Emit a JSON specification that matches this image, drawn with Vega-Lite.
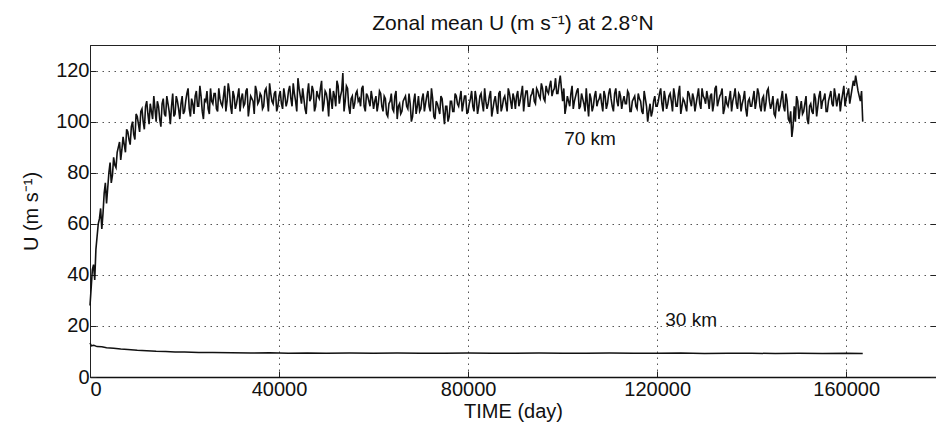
{
  "$schema": "https://vega.github.io/schema/vega-lite/v6.json",
  "autosize": {"type": "none"},
  "padding": {"left": 90, "top": 45, "right": 0, "bottom": 53},
  "width": 846,
  "height": 332,
  "background": "white",
  "title": {"text": "Zonal mean U (m s⁻¹) at 2.8°N", "anchor": "middle", "font": "Liberation Sans", "fontSize": 21, "fontWeight": "normal", "color": "#111", "offset": 11},
  "config": {
    "view": {"stroke": "#222", "strokeWidth": 1},
    "axis": {"labelFont": "Liberation Sans", "titleFont": "Liberation Sans", "labelFontSize": 20, "titleFontSize": 20, "titleFontWeight": "normal", "labelColor": "#111", "titleColor": "#111", "domainColor": "#222", "tickColor": "#222", "gridColor": "#555", "gridDash": [1.5, 4.5], "gridOpacity": 1, "gridWidth": 1}
  },
  "datasets": {
    "u70": [
      {"t":0,"u":28},{"t":500,"u":42},{"t":1000,"u":38},{"t":1500,"u":55},{"t":2000,"u":62},{"t":2500,"u":58},{"t":3000,"u":72},{"t":3500,"u":68},{"t":4000,"u":80},{"t":4500,"u":76},
      {"t":5000,"u":86},{"t":5500,"u":82},{"t":6000,"u":90},{"t":6500,"u":85},{"t":7000,"u":94},{"t":7500,"u":88},{"t":8000,"u":96},{"t":8500,"u":91},{"t":9000,"u":100},{"t":9500,"u":93},
      {"t":10000,"u":102},{"t":10500,"u":96},{"t":11000,"u":105},{"t":11500,"u":97},{"t":12000,"u":108},{"t":12500,"u":99},{"t":13000,"u":104},{"t":13500,"u":110},{"t":14000,"u":100},{"t":14500,"u":106},
      {"t":15000,"u":98},{"t":15500,"u":109},{"t":16000,"u":102},{"t":16500,"u":107},{"t":17000,"u":99},{"t":17500,"u":111},{"t":18000,"u":103},{"t":18500,"u":108},{"t":19000,"u":101},{"t":19500,"u":110},
      {"t":20000,"u":104},{"t":20500,"u":111},{"t":21000,"u":105},{"t":21500,"u":109},{"t":22000,"u":103},{"t":22500,"u":112},{"t":23000,"u":106},{"t":23500,"u":110},{"t":24000,"u":101},{"t":24500,"u":108},
      {"t":25000,"u":105},{"t":25500,"u":113},{"t":26000,"u":107},{"t":26500,"u":111},{"t":27000,"u":104},{"t":27500,"u":109},{"t":28000,"u":106},{"t":28500,"u":114},{"t":29000,"u":108},{"t":29500,"u":112},
      {"t":30000,"u":103},{"t":30500,"u":110},{"t":31000,"u":107},{"t":31500,"u":113},{"t":32000,"u":109},{"t":32500,"u":106},{"t":33000,"u":112},{"t":33500,"u":102},{"t":34000,"u":110},{"t":34500,"u":108},
      {"t":35000,"u":114},{"t":35500,"u":107},{"t":36000,"u":111},{"t":36500,"u":105},{"t":37000,"u":112},{"t":37500,"u":109},{"t":38000,"u":115},{"t":38500,"u":108},{"t":39000,"u":111},{"t":39500,"u":104},
      {"t":40000,"u":110},{"t":40500,"u":107},{"t":41000,"u":113},{"t":41500,"u":106},{"t":42000,"u":112},{"t":42500,"u":109},{"t":43000,"u":115},{"t":43500,"u":108},{"t":44000,"u":117},{"t":44500,"u":110},
      {"t":45000,"u":113},{"t":45500,"u":105},{"t":46000,"u":111},{"t":46500,"u":108},{"t":47000,"u":114},{"t":47500,"u":104},{"t":48000,"u":112},{"t":48500,"u":109},{"t":49000,"u":116},{"t":49500,"u":107},
      {"t":50000,"u":111},{"t":50500,"u":102},{"t":51000,"u":109},{"t":51500,"u":112},{"t":52000,"u":106},{"t":52500,"u":114},{"t":53000,"u":110},{"t":53500,"u":119},{"t":54000,"u":108},{"t":54500,"u":113},
      {"t":55000,"u":103},{"t":55500,"u":110},{"t":56000,"u":107},{"t":56500,"u":112},{"t":57000,"u":109},{"t":57500,"u":113},{"t":58000,"u":106},{"t":58500,"u":111},{"t":59000,"u":108},{"t":59500,"u":112},
      {"t":60000,"u":105},{"t":60500,"u":110},{"t":61000,"u":107},{"t":61500,"u":111},{"t":62000,"u":104},{"t":62500,"u":109},{"t":63000,"u":102},{"t":63500,"u":108},{"t":64000,"u":105},{"t":64500,"u":110},
      {"t":65000,"u":101},{"t":65500,"u":107},{"t":66000,"u":104},{"t":66500,"u":109},{"t":67000,"u":106},{"t":67500,"u":111},{"t":68000,"u":100},{"t":68500,"u":108},{"t":69000,"u":103},{"t":69500,"u":110},
      {"t":70000,"u":105},{"t":70500,"u":111},{"t":71000,"u":107},{"t":71500,"u":112},{"t":72000,"u":104},{"t":72500,"u":109},{"t":73000,"u":101},{"t":73500,"u":107},{"t":74000,"u":103},{"t":74500,"u":109},
      {"t":75000,"u":99},{"t":75500,"u":106},{"t":76000,"u":102},{"t":76500,"u":108},{"t":77000,"u":104},{"t":77500,"u":110},{"t":78000,"u":106},{"t":78500,"u":112},{"t":79000,"u":107},{"t":79500,"u":110},
      {"t":80000,"u":104},{"t":80500,"u":109},{"t":81000,"u":106},{"t":81500,"u":112},{"t":82000,"u":103},{"t":82500,"u":110},{"t":83000,"u":107},{"t":83500,"u":113},{"t":84000,"u":105},{"t":84500,"u":110},
      {"t":85000,"u":102},{"t":85500,"u":108},{"t":86000,"u":106},{"t":86500,"u":111},{"t":87000,"u":104},{"t":87500,"u":109},{"t":88000,"u":107},{"t":88500,"u":113},{"t":89000,"u":108},{"t":89500,"u":111},
      {"t":90000,"u":105},{"t":90500,"u":112},{"t":91000,"u":108},{"t":91500,"u":114},{"t":92000,"u":109},{"t":92500,"u":112},{"t":93000,"u":106},{"t":93500,"u":111},{"t":94000,"u":108},{"t":94500,"u":113},
      {"t":95000,"u":110},{"t":95500,"u":115},{"t":96000,"u":109},{"t":96500,"u":114},{"t":97000,"u":111},{"t":97500,"u":116},{"t":98000,"u":112},{"t":98500,"u":117},{"t":99000,"u":111},{"t":99500,"u":118},
      {"t":100000,"u":108},{"t":100500,"u":103},{"t":101000,"u":110},{"t":101500,"u":106},{"t":102000,"u":114},{"t":102500,"u":108},{"t":103000,"u":112},{"t":103500,"u":105},{"t":104000,"u":111},{"t":104500,"u":107},
      {"t":105000,"u":113},{"t":105500,"u":102},{"t":106000,"u":109},{"t":106500,"u":106},{"t":107000,"u":112},{"t":107500,"u":108},{"t":108000,"u":111},{"t":108500,"u":104},{"t":109000,"u":110},{"t":109500,"u":107},
      {"t":110000,"u":113},{"t":110500,"u":106},{"t":111000,"u":111},{"t":111500,"u":108},{"t":112000,"u":112},{"t":112500,"u":105},{"t":113000,"u":110},{"t":113500,"u":107},{"t":114000,"u":111},{"t":114500,"u":104},
      {"t":115000,"u":109},{"t":115500,"u":106},{"t":116000,"u":111},{"t":116500,"u":108},{"t":117000,"u":103},{"t":117500,"u":109},{"t":118000,"u":100},{"t":118500,"u":107},{"t":119000,"u":104},{"t":119500,"u":110},
      {"t":120000,"u":106},{"t":120500,"u":111},{"t":121000,"u":107},{"t":121500,"u":112},{"t":122000,"u":105},{"t":122500,"u":110},{"t":123000,"u":108},{"t":123500,"u":113},{"t":124000,"u":106},{"t":124500,"u":111},
      {"t":125000,"u":103},{"t":125500,"u":109},{"t":126000,"u":106},{"t":126500,"u":112},{"t":127000,"u":108},{"t":127500,"u":111},{"t":128000,"u":104},{"t":128500,"u":110},{"t":129000,"u":107},{"t":129500,"u":113},
      {"t":130000,"u":109},{"t":130500,"u":112},{"t":131000,"u":105},{"t":131500,"u":111},{"t":132000,"u":107},{"t":132500,"u":114},{"t":133000,"u":108},{"t":133500,"u":111},{"t":134000,"u":103},{"t":134500,"u":110},
      {"t":135000,"u":106},{"t":135500,"u":112},{"t":136000,"u":108},{"t":136500,"u":113},{"t":137000,"u":105},{"t":137500,"u":110},{"t":138000,"u":107},{"t":138500,"u":112},{"t":139000,"u":102},{"t":139500,"u":109},
      {"t":140000,"u":106},{"t":140500,"u":112},{"t":141000,"u":108},{"t":141500,"u":111},{"t":142000,"u":104},{"t":142500,"u":110},{"t":143000,"u":107},{"t":143500,"u":113},{"t":144000,"u":105},{"t":144500,"u":110},
      {"t":145000,"u":102},{"t":145500,"u":109},{"t":146000,"u":106},{"t":146500,"u":112},{"t":147000,"u":104},{"t":147500,"u":108},{"t":148000,"u":100},{"t":148500,"u":94},{"t":149000,"u":106},{"t":149500,"u":110},
      {"t":150000,"u":101},{"t":150500,"u":108},{"t":151000,"u":104},{"t":151500,"u":110},{"t":152000,"u":99},{"t":152500,"u":107},{"t":153000,"u":103},{"t":153500,"u":109},{"t":154000,"u":106},{"t":154500,"u":112},
      {"t":155000,"u":108},{"t":155500,"u":111},{"t":156000,"u":104},{"t":156500,"u":110},{"t":157000,"u":107},{"t":157500,"u":113},{"t":158000,"u":106},{"t":158500,"u":111},{"t":159000,"u":108},{"t":159500,"u":114},
      {"t":160000,"u":109},{"t":160500,"u":113},{"t":161000,"u":110},{"t":161500,"u":116},{"t":162000,"u":118},{"t":162500,"u":112},{"t":163000,"u":108},{"t":163500,"u":100},
      {"t":250,"u":35},{"t":750,"u":44},{"t":1250,"u":50},{"t":1750,"u":60},{"t":2250,"u":66},{"t":2750,"u":64},{"t":3250,"u":76},{"t":3750,"u":74},{"t":4250,"u":84},{"t":4750,"u":79},
      {"t":5250,"u":83},{"t":5750,"u":88},{"t":6250,"u":92},{"t":6750,"u":89},{"t":7250,"u":91},{"t":7750,"u":97},{"t":8250,"u":93},{"t":8750,"u":98},{"t":9250,"u":95},{"t":9750,"u":103},
      {"t":10250,"u":99},{"t":10750,"u":104},{"t":11250,"u":100},{"t":11750,"u":106},{"t":12250,"u":103},{"t":12750,"u":107},{"t":13250,"u":101},{"t":13750,"u":105},{"t":14250,"u":108},{"t":14750,"u":101},
      {"t":15250,"u":107},{"t":15750,"u":103},{"t":16250,"u":110},{"t":16750,"u":104},{"t":17250,"u":106},{"t":17750,"u":102},{"t":18250,"u":110},{"t":18750,"u":105},{"t":19250,"u":107},{"t":19750,"u":103},
      {"t":20250,"u":108},{"t":20750,"u":113},{"t":21250,"u":102},{"t":21750,"u":107},{"t":22250,"u":110},{"t":22750,"u":106},{"t":23250,"u":114},{"t":23750,"u":104},{"t":24250,"u":109},{"t":24750,"u":112},
      {"t":25250,"u":103},{"t":25750,"u":108},{"t":26250,"u":111},{"t":26750,"u":105},{"t":27250,"u":113},{"t":27750,"u":107},{"t":28250,"u":110},{"t":28750,"u":104},{"t":29250,"u":115},{"t":29750,"u":106},
      {"t":30250,"u":112},{"t":30750,"u":105},{"t":31250,"u":110},{"t":31750,"u":104},{"t":32250,"u":111},{"t":32750,"u":107},{"t":33250,"u":113},{"t":33750,"u":106},{"t":34250,"u":109},{"t":34750,"u":103},
      {"t":35250,"u":112},{"t":35750,"u":108},{"t":36250,"u":110},{"t":36750,"u":106},{"t":37250,"u":113},{"t":37750,"u":104},{"t":38250,"u":111},{"t":38750,"u":107},{"t":39250,"u":112},{"t":39750,"u":106},
      {"t":40250,"u":112},{"t":40750,"u":105},{"t":41250,"u":110},{"t":41750,"u":108},{"t":42250,"u":114},{"t":42750,"u":106},{"t":43250,"u":111},{"t":43750,"u":104},{"t":44250,"u":113},{"t":44750,"u":107},
      {"t":45250,"u":109},{"t":45750,"u":103},{"t":46250,"u":115},{"t":46750,"u":109},{"t":47250,"u":112},{"t":47750,"u":106},{"t":48250,"u":110},{"t":48750,"u":113},{"t":49250,"u":104},{"t":49750,"u":112},
      {"t":50250,"u":108},{"t":50750,"u":113},{"t":51250,"u":105},{"t":51750,"u":110},{"t":52250,"u":116},{"t":52750,"u":107},{"t":53250,"u":112},{"t":53750,"u":104},{"t":54250,"u":114},{"t":54750,"u":106},
      {"t":55250,"u":109},{"t":55750,"u":105},{"t":56250,"u":111},{"t":56750,"u":108},{"t":57250,"u":106},{"t":57750,"u":114},{"t":58250,"u":104},{"t":58750,"u":110},{"t":59250,"u":106},{"t":59750,"u":109},
      {"t":60250,"u":108},{"t":60750,"u":104},{"t":61250,"u":112},{"t":61750,"u":106},{"t":62250,"u":110},{"t":62750,"u":103},{"t":63250,"u":107},{"t":63750,"u":111},{"t":64250,"u":104},{"t":64750,"u":112},
      {"t":65250,"u":106},{"t":65750,"u":103},{"t":66250,"u":108},{"t":66750,"u":110},{"t":67250,"u":105},{"t":67750,"u":107},{"t":68250,"u":102},{"t":68750,"u":111},{"t":69250,"u":106},{"t":69750,"u":104},
      {"t":70250,"u":109},{"t":70750,"u":104},{"t":71250,"u":110},{"t":71750,"u":106},{"t":72250,"u":113},{"t":72750,"u":102},{"t":73250,"u":108},{"t":73750,"u":105},{"t":74250,"u":110},{"t":74750,"u":104},
      {"t":75250,"u":106},{"t":75750,"u":100},{"t":76250,"u":108},{"t":76750,"u":104},{"t":77250,"u":111},{"t":77750,"u":107},{"t":78250,"u":109},{"t":78750,"u":104},{"t":79250,"u":110},{"t":79750,"u":103},
      {"t":80250,"u":107},{"t":80750,"u":112},{"t":81250,"u":104},{"t":81750,"u":109},{"t":82250,"u":106},{"t":82750,"u":111},{"t":83250,"u":104},{"t":83750,"u":108},{"t":84250,"u":107},{"t":84750,"u":112},
      {"t":85250,"u":105},{"t":85750,"u":110},{"t":86250,"u":103},{"t":86750,"u":112},{"t":87250,"u":106},{"t":87750,"u":110},{"t":88250,"u":104},{"t":88750,"u":111},{"t":89250,"u":105},{"t":89750,"u":109},
      {"t":90250,"u":110},{"t":90750,"u":106},{"t":91250,"u":111},{"t":91750,"u":104},{"t":92250,"u":112},{"t":92750,"u":106},{"t":93250,"u":110},{"t":93750,"u":113},{"t":94250,"u":107},{"t":94750,"u":112},
      {"t":95250,"u":109},{"t":95750,"u":113},{"t":96250,"u":108},{"t":96750,"u":112},{"t":97250,"u":114},{"t":97750,"u":110},{"t":98250,"u":113},{"t":98750,"u":111},{"t":99250,"u":115},{"t":99750,"u":113},
      {"t":100250,"u":113},{"t":100750,"u":106},{"t":101250,"u":108},{"t":101750,"u":111},{"t":102250,"u":105},{"t":102750,"u":110},{"t":103250,"u":113},{"t":103750,"u":106},{"t":104250,"u":109},{"t":104750,"u":104},
      {"t":105250,"u":107},{"t":105750,"u":111},{"t":106250,"u":104},{"t":106750,"u":110},{"t":107250,"u":106},{"t":107750,"u":109},{"t":108250,"u":107},{"t":108750,"u":112},{"t":109250,"u":105},{"t":109750,"u":111},
      {"t":110250,"u":109},{"t":110750,"u":104},{"t":111250,"u":113},{"t":111750,"u":106},{"t":112250,"u":110},{"t":112750,"u":108},{"t":113250,"u":107},{"t":113750,"u":112},{"t":114250,"u":104},{"t":114750,"u":108},
      {"t":115250,"u":110},{"t":115750,"u":105},{"t":116250,"u":109},{"t":116750,"u":104},{"t":117250,"u":112},{"t":117750,"u":106},{"t":118250,"u":104},{"t":118750,"u":102},{"t":119250,"u":108},{"t":119750,"u":106},
      {"t":120250,"u":108},{"t":120750,"u":113},{"t":121250,"u":104},{"t":121750,"u":109},{"t":122250,"u":107},{"t":122750,"u":111},{"t":123250,"u":104},{"t":123750,"u":110},{"t":124250,"u":106},{"t":124750,"u":114},
      {"t":125250,"u":106},{"t":125750,"u":108},{"t":126250,"u":104},{"t":126750,"u":111},{"t":127250,"u":106},{"t":127750,"u":109},{"t":128250,"u":107},{"t":128750,"u":113},{"t":129250,"u":105},{"t":129750,"u":110},
      {"t":130250,"u":107},{"t":130750,"u":109},{"t":131250,"u":110},{"t":131750,"u":104},{"t":132250,"u":113},{"t":132750,"u":106},{"t":133250,"u":110},{"t":133750,"u":113},{"t":134250,"u":105},{"t":134750,"u":107},
      {"t":135250,"u":109},{"t":135750,"u":104},{"t":136250,"u":110},{"t":136750,"u":107},{"t":137250,"u":111},{"t":137750,"u":104},{"t":138250,"u":109},{"t":138750,"u":105},{"t":139250,"u":108},{"t":139750,"u":106},
      {"t":140250,"u":109},{"t":140750,"u":105},{"t":141250,"u":113},{"t":141750,"u":106},{"t":142250,"u":109},{"t":142750,"u":104},{"t":143250,"u":112},{"t":143750,"u":108},{"t":144250,"u":107},{"t":144750,"u":103},
      {"t":145250,"u":107},{"t":145750,"u":104},{"t":146250,"u":109},{"t":146750,"u":106},{"t":147250,"u":111},{"t":147750,"u":101},{"t":148250,"u":104},{"t":148750,"u":98},{"t":149250,"u":100},{"t":149750,"u":108},
      {"t":150250,"u":105},{"t":150750,"u":103},{"t":151250,"u":107},{"t":151750,"u":101},{"t":152250,"u":106},{"t":152750,"u":104},{"t":153250,"u":111},{"t":153750,"u":102},{"t":154250,"u":110},{"t":154750,"u":105},
      {"t":155250,"u":109},{"t":155750,"u":104},{"t":156250,"u":108},{"t":156750,"u":112},{"t":157250,"u":106},{"t":157750,"u":110},{"t":158250,"u":109},{"t":158750,"u":104},{"t":159250,"u":111},{"t":159750,"u":106},
      {"t":160250,"u":111},{"t":160750,"u":107},{"t":161250,"u":113},{"t":161750,"u":114},{"t":162250,"u":115},{"t":162750,"u":110},{"t":163250,"u":112}
    ],
    "u30": [
      {"t":0,"u":13.3},{"t":300,"u":12.2},{"t":800,"u":12.4},{"t":1500,"u":11.9},{"t":2500,"u":11.8},{"t":3500,"u":11.5},{"t":5000,"u":11.3},{"t":6500,"u":11.0},{"t":8000,"u":10.8},{"t":10000,"u":10.5},
      {"t":12000,"u":10.3},{"t":14000,"u":10.1},{"t":16000,"u":10.0},{"t":18000,"u":9.8},{"t":20000,"u":9.8},{"t":23000,"u":9.6},{"t":26000,"u":9.6},{"t":30000,"u":9.5},{"t":34000,"u":9.4},{"t":38000,"u":9.5},
      {"t":42000,"u":9.3},{"t":46000,"u":9.4},{"t":50000,"u":9.3},{"t":55000,"u":9.4},{"t":60000,"u":9.3},{"t":65000,"u":9.4},{"t":70000,"u":9.3},{"t":75000,"u":9.3},{"t":80000,"u":9.4},{"t":85000,"u":9.3},
      {"t":90000,"u":9.3},{"t":95000,"u":9.4},{"t":100000,"u":9.3},{"t":105000,"u":9.3},{"t":110000,"u":9.4},{"t":115000,"u":9.3},{"t":120000,"u":9.3},{"t":125000,"u":9.4},{"t":130000,"u":9.2},{"t":135000,"u":9.3},
      {"t":140000,"u":9.3},{"t":145000,"u":9.2},{"t":150000,"u":9.3},{"t":155000,"u":9.2},{"t":160000,"u":9.3},{"t":163500,"u":9.2}
    ],
    "labels": [
      {"t":105800,"u":93,"text":"70 km"},
      {"t":127200,"u":22.4,"text":"30 km"}
    ]
  },
  "layer": [
    {
      "data": {"name": "u70"},
      "mark": {"type": "line", "color": "#111", "strokeWidth": 1.6},
      "encoding": {
        "x": {"field": "t", "type": "quantitative", "scale": {"domain": [0, 179000], "nice": false, "zero": false},
              "axis": {"orient": "bottom", "values": [0, 40000, 80000, 120000, 160000], "format": "d", "title": "TIME (day)", "titlePadding": 2, "labelPadding": 8, "tickSize": -6, "domain": true, "domainWidth": 1.5, "domainColor": "#111", "grid": true}},
        "y": {"field": "u", "type": "quantitative", "scale": {"domain": [0, 130], "nice": false},
              "axis": {"orient": "left", "values": [0, 20, 40, 60, 80, 100, 120], "title": "U (m s⁻¹)", "titlePadding": 14, "labelPadding": 7, "tickSize": -6, "domain": true, "grid": true}}
      }
    },
    {
      "data": {"name": "u30"},
      "mark": {"type": "line", "color": "#111", "strokeWidth": 1.5},
      "encoding": {
        "x": {"field": "t", "type": "quantitative", "axis": {"orient": "top", "values": [0, 40000, 80000, 120000, 160000], "labels": false, "title": null, "tickSize": -6, "grid": false, "domain": false}},
        "y": {"field": "u", "type": "quantitative", "axis": {"orient": "right", "values": [0, 20, 40, 60, 80, 100, 120], "labels": false, "title": null, "tickSize": -6, "grid": false, "domain": false}}
      }
    },
    {
      "data": {"name": "labels"},
      "mark": {"type": "text", "font": "Liberation Sans", "fontSize": 19, "color": "#111", "align": "center", "baseline": "middle"},
      "encoding": {
        "x": {"field": "t", "type": "quantitative", "axis": null},
        "y": {"field": "u", "type": "quantitative", "axis": null},
        "text": {"field": "text"}
      }
    }
  ],
  "resolve": {"axis": {"x": "independent", "y": "independent"}}
}
